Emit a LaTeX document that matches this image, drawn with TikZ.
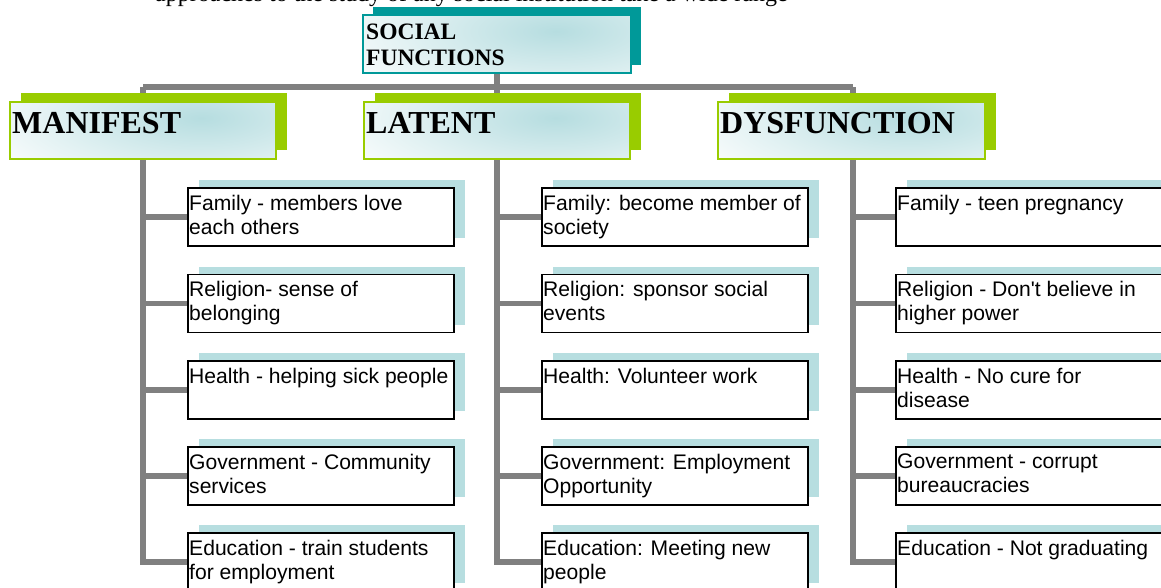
\documentclass[tikz,border=0pt]{standalone}
\usepackage{fontspec}
\setmainfont{Liberation Serif}
\newfontfamily\arialfont{Liberation Sans}
\usetikzlibrary{calc}

\definecolor{connGray}{HTML}{808080}
\definecolor{rootTeal}{HTML}{009999}
\definecolor{catGreen}{HTML}{99CC00}
\definecolor{tintTeal}{HTML}{B6DDE0}
\definecolor{itemShadow}{HTML}{B7DEE0}

\pgfdeclarelayer{bg}
\pgfsetlayers{bg,main}

\tikzset{
  conn/.style={draw=connGray, line width=5.5pt},
  itemcard/.style={draw=black, line width=1.8pt, fill=white, anchor=north west,
    minimum width=266pt, minimum height=58pt, inner sep=0pt, outer sep=0pt},
  itemtext/.style={anchor=north west, inner sep=0pt, align=left,
    font=\arialfont\fontsize{21.1}{24}\selectfont},
  headframe/.style={draw=#1, line width=2pt, anchor=north west,
    inner sep=0pt, outer sep=0pt},
  headtext/.style={anchor=north west, inner sep=0pt, align=left},
}

% item card: name, left, top, text
\newcommand\itemcardat[4]{%
  \fill[itemShadow] (#2+11,#3-8) rectangle ++(266,58);
  \node[itemcard] (#1) at (#2,#3) {};
  \node[itemtext] at ($(#1.north west)+(1,7)$) {#4};
}

% heading card: name, left, top, width, height, frame colour, shadow dx, shadow dy
\newcommand\headcardat[8]{%
  \fill[#6] (#2+#7,#3-#8) rectangle ++(#4,#5);
  \begin{scope}
    \clip (#2,#3) rectangle ++(#4,#5);
    \fill[white] (#2,#3) rectangle ++(#4,#5);
    \shade[inner color=tintTeal, outer color=white]
      ({#2+0.72*#4},{#3+0.28*#5}) ellipse ({0.95*#4} and {1.5*#5});
  \end{scope}
  \node[headframe=#6, minimum width=#4 pt, minimum height=#5 pt] (#1) at (#2,#3) {};
}

\begin{document}
\begin{tikzpicture}[x=1pt, y=-1pt]
  \useasboundingbox (0,0) rectangle (1161,587);
  \clip (0,0) rectangle (1161,587);

  % running text line above the chart, mostly above the top edge
  \node[anchor=base west, inner sep=0pt, font=\fontsize{24}{28}\selectfont]
    (intro) at (155,1) {approaches to the study of any social institution take a wide range};

  % root
  \headcardat{root}{363}{15}{268}{58}{rootTeal}{10}{8}
  \node[headtext, font=\bfseries\fontsize{23.5}{26.4}\selectfont]
    at ($(root.north west)+(3,8.5)$) {SOCIAL\\FUNCTIONS};

  % categories
  \headcardat{man}{10}{102}{266}{57}{catGreen}{11}{9}
  \headcardat{lat}{364}{102}{266}{57}{catGreen}{11}{9}
  \headcardat{dys}{718}{102}{267}{57}{catGreen}{11}{9}
  \node[headtext, font=\bfseries\fontsize{32}{36}\selectfont]
    at ($(man.north west)+(2,10)$) {MANIFEST};
  \node[headtext, font=\bfseries\fontsize{32}{36}\selectfont]
    at ($(lat.north west)+(2,10)$) {LATENT};
  \node[headtext, font=\bfseries\fontsize{32}{36}\selectfont]
    at ($(dys.north west)+(2,10)$) {DYSFUNCTION};

  % manifest items
  \itemcardat{m1}{188}{188}{Family - members love\\each others}
  \itemcardat{m2}{188}{274.5}{Religion- sense of\\belonging}
  \itemcardat{m3}{188}{361}{Health - helping sick people}
  \itemcardat{m4}{188}{447}{Government - Community\\services}
  \itemcardat{m5}{188}{533}{Education - train students\\for employment}

  % latent items
  \itemcardat{l1}{542}{188}{Family: become member of\\society}
  \itemcardat{l2}{542}{274.5}{Religion: sponsor social\\events}
  \itemcardat{l3}{542}{361}{Health: Volunteer work}
  \itemcardat{l4}{542}{447}{Government: Employment\\Opportunity}
  \itemcardat{l5}{542}{533}{Education: Meeting new\\people}

  % dysfunction items
  \itemcardat{d1}{896}{188}{Family - teen pregnancy}
  \itemcardat{d2}{896}{274.5}{Religion - Don't believe in\\higher power}
  \itemcardat{d3}{896}{361}{Health - No cure for\\disease}
  \itemcardat{d4}{896}{447}{Government - corrupt\\bureaucracies}
  \itemcardat{d5}{896}{533}{Education - Not graduating}

  % connectors, kept behind the cards
  \begin{pgfonlayer}{bg}
    \coordinate (barL) at (143,87);
    \coordinate (barR) at (853,87);
    \draw[conn] (root.south) -- (root.south |- barL);
    \draw[conn] (barL) -- (barR);
    \draw[conn] (barL) |- (m5.west);
    \draw[conn] (root.south) |- (l5.west);
    \draw[conn] (barR) |- (d5.west);
    \foreach \i in {1,...,4} {
      \draw[conn] (m\i.west -| barL) -- (m\i.west);
      \draw[conn] (l\i.west -| root.south) -- (l\i.west);
      \draw[conn] (d\i.west -| barR) -- (d\i.west);
    }
  \end{pgfonlayer}
\end{tikzpicture}
\end{document}
